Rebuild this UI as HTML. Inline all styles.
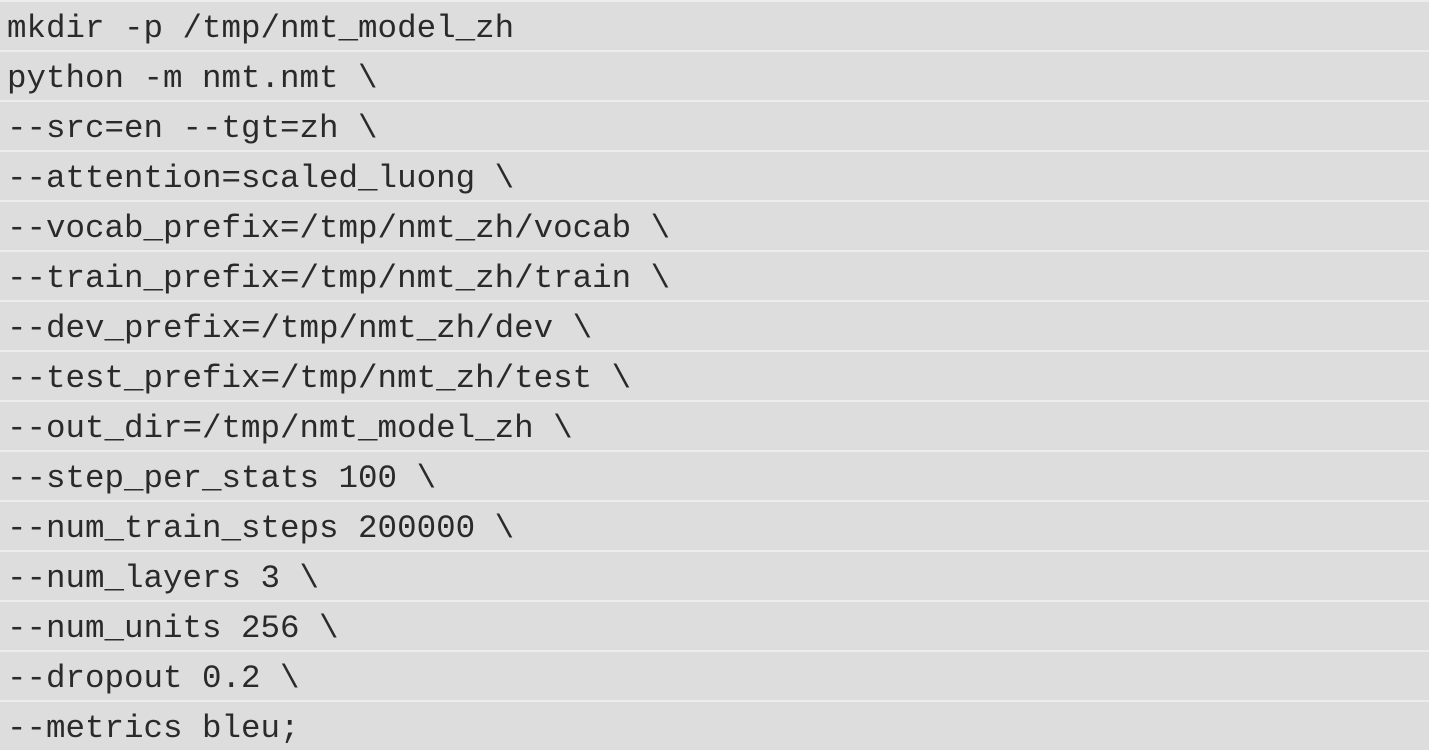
<!DOCTYPE html>
<html><head><meta charset="utf-8"><style>
html,body{margin:0;padding:0;background:#dddddd;width:1429px;height:750px;overflow:hidden}
.l{height:48px;border-top:2px solid #ececec;background:#dddddd;font-family:"Liberation Mono",monospace;font-size:32.5px;line-height:48px;color:#2a2a2a;padding-left:7px;white-space:pre;box-sizing:content-box}
.l span{position:relative;top:3px}
</style></head><body>
<div class="l"><span>mkdir -p /tmp/nmt_model_zh</span></div>
<div class="l"><span>python -m nmt.nmt \</span></div>
<div class="l"><span>--src=en --tgt=zh \</span></div>
<div class="l"><span>--attention=scaled_luong \</span></div>
<div class="l"><span>--vocab_prefix=/tmp/nmt_zh/vocab \</span></div>
<div class="l"><span>--train_prefix=/tmp/nmt_zh/train \</span></div>
<div class="l"><span>--dev_prefix=/tmp/nmt_zh/dev \</span></div>
<div class="l"><span>--test_prefix=/tmp/nmt_zh/test \</span></div>
<div class="l"><span>--out_dir=/tmp/nmt_model_zh \</span></div>
<div class="l"><span>--step_per_stats 100 \</span></div>
<div class="l"><span>--num_train_steps 200000 \</span></div>
<div class="l"><span>--num_layers 3 \</span></div>
<div class="l"><span>--num_units 256 \</span></div>
<div class="l"><span>--dropout 0.2 \</span></div>
<div class="l"><span>--metrics bleu;</span></div>
</body></html>
